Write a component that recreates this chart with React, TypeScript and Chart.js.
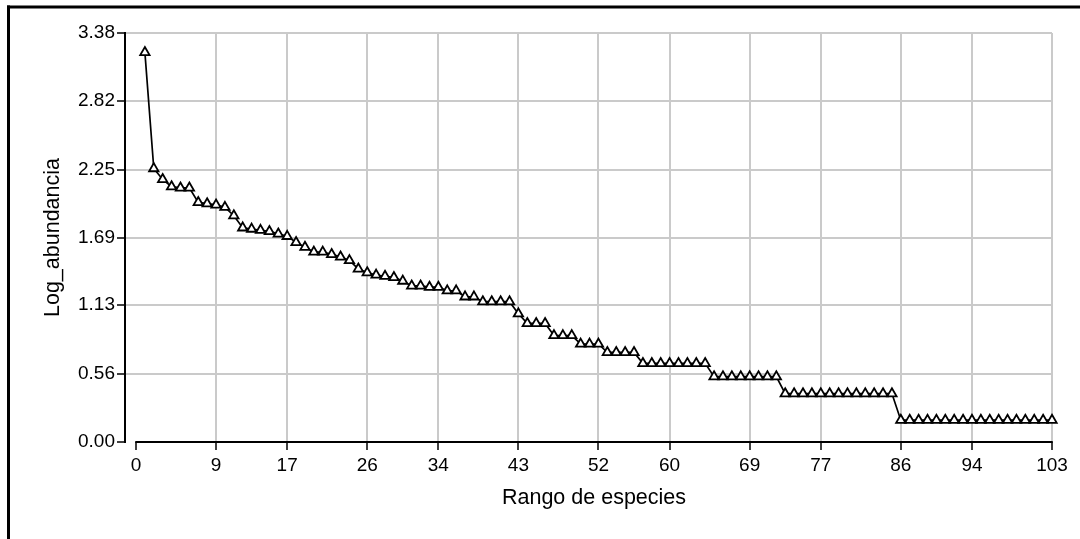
import { useEffect, useRef } from "react";
import { Chart, registerables } from "chart.js";

Chart.register(...registerables);

// Log abundance by species rank (rank = position in the list, 1..103)
const logAbundance = [
  3.22, 2.26, 2.17, 2.11, 2.10, 2.10, 1.98, 1.97, 1.96, 1.94,
  1.87, 1.77, 1.76, 1.75, 1.74, 1.72, 1.70, 1.65, 1.61, 1.57,
  1.57, 1.55, 1.53, 1.50, 1.43, 1.40, 1.38, 1.37, 1.36, 1.33,
  1.29, 1.29, 1.28, 1.28, 1.25, 1.25, 1.20, 1.20, 1.16, 1.16,
  1.16, 1.16, 1.06, 0.98, 0.98, 0.98, 0.88, 0.88, 0.88, 0.81,
  0.81, 0.81, 0.74, 0.74, 0.74, 0.74, 0.65, 0.65, 0.65, 0.65,
  0.65, 0.65, 0.65, 0.65, 0.54, 0.54, 0.54, 0.54, 0.54, 0.54,
  0.54, 0.54, 0.40, 0.40, 0.40, 0.40, 0.40, 0.40, 0.40, 0.40,
  0.40, 0.40, 0.40, 0.40, 0.40, 0.18, 0.18, 0.18, 0.18, 0.18,
  0.18, 0.18, 0.18, 0.18, 0.18, 0.18, 0.18, 0.18, 0.18, 0.18,
  0.18, 0.18, 0.18,
];

const xTickValues = [0, 9, 17, 26, 34, 43, 52, 60, 69, 77, 86, 94, 103];
const yTickValues = [0, 0.56, 1.13, 1.69, 2.25, 2.82, 3.38];

const xTitle = "Rango de especies";
const yTitle = "Log_abundancia";

const FONT = '"Liberation Sans", Arial, sans-serif';
const TICK_SIZE = 19;
const TITLE_SIZE = 21.5;
const GRID = "#cacaca";
const INK = "#000000";

export default function App() {
  const canvasRef = useRef<HTMLCanvasElement>(null);

  useEffect(() => {
    const canvas = canvasRef.current;
    if (!canvas) return;

    const points = logAbundance.map((v, i) => ({ x: i + 1, y: v }));
    const xMin = xTickValues[0];
    const xMax = xTickValues[xTickValues.length - 1];

    const decorations = {
      id: "decorations",
      beforeDraw(chart: any) {
        const { ctx, width, height } = chart;
        ctx.save();
        ctx.fillStyle = "#ffffff";
        ctx.fillRect(0, 0, width, height);
        // panel frame (top and left edges)
        ctx.fillStyle = INK;
        ctx.fillRect(7, 5.5, width - 7, 3);
        ctx.fillRect(7, 5.5, 3, height);
        ctx.restore();
      },
      beforeDatasetsDraw(chart: any) {
        const { ctx, chartArea } = chart;
        const xs = chart.scales.x;
        ctx.save();
        ctx.strokeStyle = INK;
        ctx.lineWidth = 2;
        ctx.beginPath();
        ctx.moveTo(xs.getPixelForValue(xMin) - 0.75, chartArea.bottom);
        ctx.lineTo(xs.getPixelForValue(xMax) + 0.75, chartArea.bottom);
        ctx.stroke();
        ctx.restore();
      },
      afterDraw(chart: any) {
        const { ctx } = chart;
        const xs = chart.scales.x;
        ctx.save();
        ctx.fillStyle = INK;
        ctx.font = `${TITLE_SIZE}px ${FONT}`;
        ctx.textAlign = "center";
        ctx.textBaseline = "alphabetic";
        const cx = (xs.getPixelForValue(xMin) + xs.getPixelForValue(xMax)) / 2;
        ctx.fillText(xTitle, cx, 504);
        ctx.restore();
      },
    };

    const chart = new Chart(canvas, {
      type: "line",
      data: {
        datasets: [
          {
            data: points,
            borderColor: INK,
            borderWidth: 1.7,
            tension: 0,
            pointStyle: "triangle",
            pointRadius: 5.4,
            pointBorderWidth: 1.8,
            pointBorderColor: INK,
            pointBackgroundColor: "#ffffff",
            clip: false,
          } as any,
        ],
      },
      plugins: [decorations],
      options: {
        animation: false,
        responsive: false,
        events: [],
        layout: { padding: { top: 33, right: 28, bottom: 0, left: 0 } },
        plugins: {
          legend: { display: false },
          tooltip: { enabled: false },
        },
        scales: {
          x: {
            type: "linear",
            min: -1.237,
            max: xMax,
            afterBuildTicks: (s: any) => {
              s.ticks = xTickValues.map((v) => ({ value: v }));
            },
            afterFit: (s: any) => {
              s.height = 97;
            },
            border: { display: false },
            grid: {
              color: (c: any) =>
                c.tick && c.tick.value === 0 ? "rgba(0,0,0,0)" : GRID,
              lineWidth: 2,
              drawTicks: true,
              tickLength: 8,
              tickColor: INK,
              tickWidth: 1.5,
            },
            ticks: {
              autoSkip: false,
              maxRotation: 0,
              padding: 4,
              color: INK,
              font: { family: FONT, size: TICK_SIZE },
              callback: (v: any) => String(v),
            },
          },
          y: {
            type: "linear",
            min: yTickValues[0],
            max: yTickValues[yTickValues.length - 1],
            afterBuildTicks: (s: any) => {
              s.ticks = yTickValues.map((v) => ({ value: v }));
            },
            afterFit: (s: any) => {
              s.width = 125;
            },
            border: { display: true, color: INK, width: 2 },
            grid: {
              color: (c: any) =>
                c.tick && c.tick.value === 0 ? "rgba(0,0,0,0)" : GRID,
              lineWidth: 2,
              drawTicks: true,
              tickLength: 8,
              tickColor: INK,
              tickWidth: 1.5,
            },
            ticks: {
              padding: 2,
              color: INK,
              font: { family: FONT, size: TICK_SIZE },
              callback: (v: any) => Number(v).toFixed(2),
            },
            title: {
              display: true,
              text: yTitle,
              color: INK,
              font: { family: FONT, size: TITLE_SIZE },
              padding: { top: 40, bottom: 0 },
            },
          },
        },
      },
    });

    return () => chart.destroy();
  }, []);

  return (
    <canvas
      ref={canvasRef}
      width={1080}
      height={539}
      style={{ position: "fixed", left: 0, top: 0, display: "block" }}
    />
  );
}
